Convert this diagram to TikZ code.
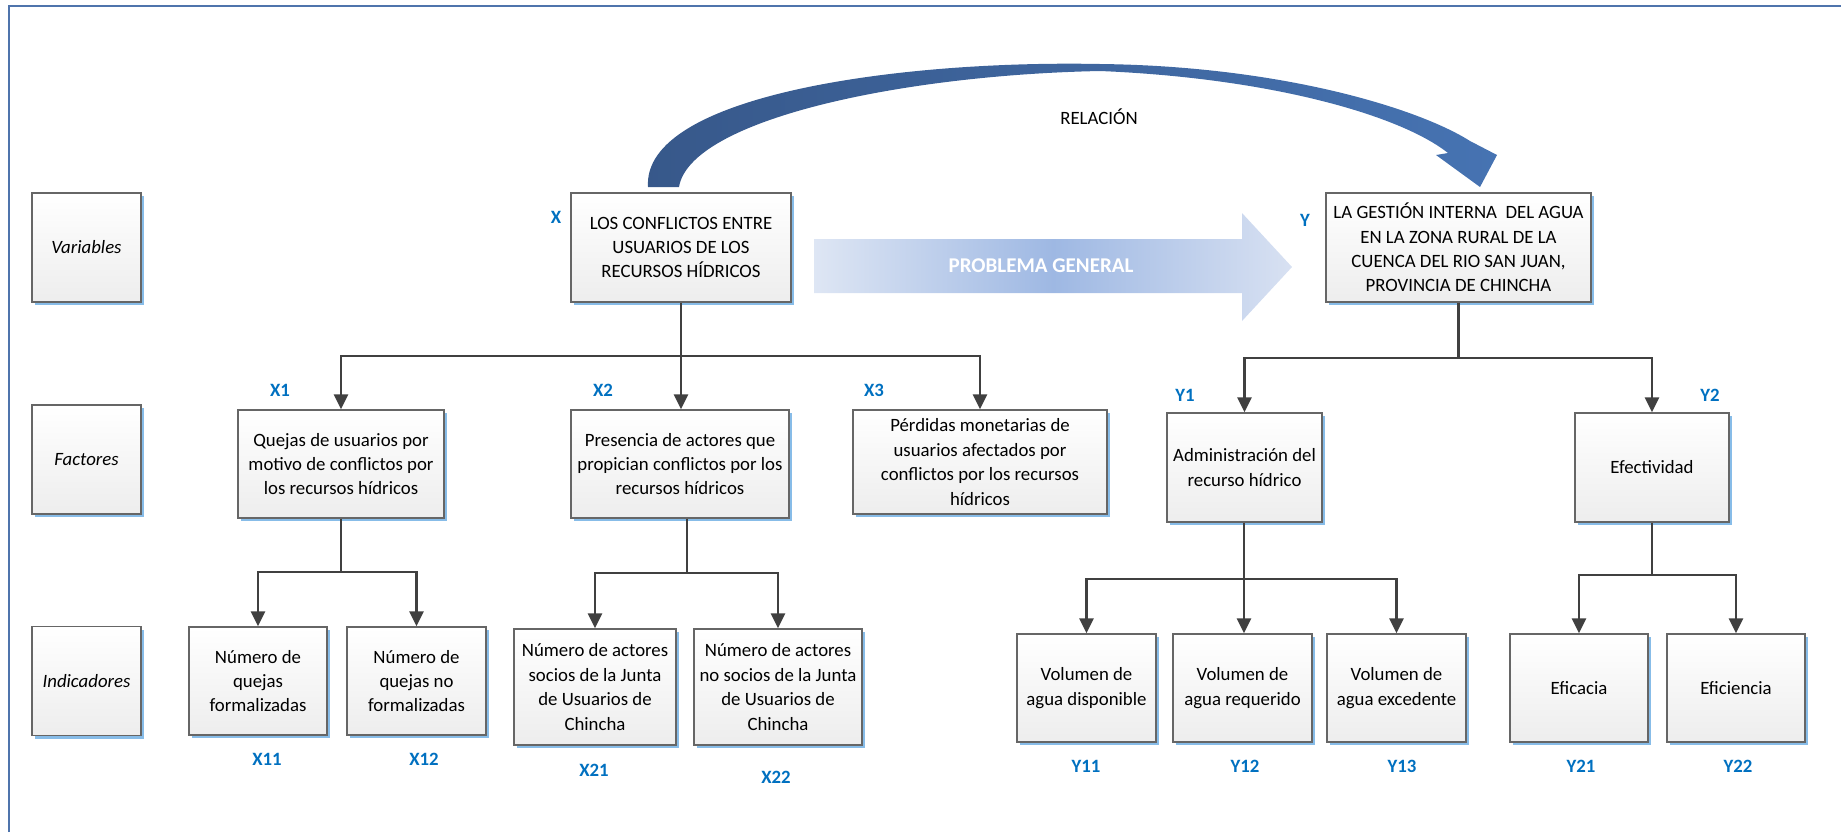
\documentclass[tikz,border=0pt]{standalone}
\usepackage{fontspec}
\setmainfont{Carlito}
\usetikzlibrary{arrows.meta,shadows}
\definecolor{framecol}{RGB}{79,116,172}
\definecolor{shadowblue}{RGB}{135,188,232}
\definecolor{lblblue}{RGB}{0,112,192}
\definecolor{bandl}{RGB}{55,88,138}
\definecolor{bandr}{RGB}{70,115,178}
\definecolor{pgl}{RGB}{222,230,244}
\definecolor{pgm}{RGB}{158,184,227}
\definecolor{pgr}{RGB}{216,225,242}
\tikzset{
  box/.style={rectangle, draw=black!60, line width=0.7pt, top color=white, bottom color=black!7,
    inner sep=0pt, align=center, font=\fontsize{9.4}{12.2}\selectfont,
    drop shadow={shadow xshift=1.6pt, shadow yshift=-1.6pt, fill=shadowblue, opacity=1}},
  rowbox/.style={box, minimum width=54.5pt, minimum height=54.5pt, font=\fontsize{9.4}{12.2}\selectfont\itshape},
  lbl/.style={text=lblblue, font=\fontsize{9.4}{11}\selectfont\bfseries, inner sep=0pt},
  line/.style={draw=black!75, line width=1.3pt},
  arr/.style={line, -{Triangle[length=7.5pt,width=7pt]}},
}
\begin{document}
\begin{tikzpicture}[x=0.5pt,y=-0.5pt]
\useasboundingbox (0,0) rectangle (1841,832);
\draw[framecol, line width=1pt] (9,832) -- (9,6) -- (1841,6);

% row titles
\node[rowbox] (var) at (86.5,247.5) {Variables};
\node[rowbox] (fac) at (86.5,459.5) {Factores};
\node[rowbox] (ind) at (86.5,681) {Indicadores};

% relation arrow
\shade[left color=bandl, right color=bandr] (648,187) .. controls (642,95) and (900,60) .. (1100,64)
  .. controls (1280,66) and (1418,108) .. (1470,141) -- (1497,155) -- (1480,187) -- (1436,155) -- (1448,153)
  .. controls (1400,115) and (1270,78) .. (1100,71) .. controls (900,75) and (690,120) .. (679,187) -- cycle;
\node[font=\fontsize{9.4}{11}\selectfont] (rel) at (1099,117) {RELACIÓN};

\shade[left color=pgl, right color=pgr, middle color=pgm] (814,239) -- (1242,239) -- (1242,213) -- (1292,267)
  -- (1242,321) -- (1242,293) -- (814,293) -- cycle;
\node[text=white, font=\fontsize{10.5}{12}\selectfont\bfseries] (pg) at (1041,266) {PROBLEMA GENERAL};

% variables
\node[box, minimum width=110pt, minimum height=54.5pt] (X) at (681,247.5) {LOS CONFLICTOS ENTRE\\USUARIOS DE LOS\\RECURSOS HÍDRICOS};
\node[box, minimum width=132.5pt, minimum height=54.5pt] (Y) at (1458.5,247.5) {LA GESTIÓN INTERNA \ DEL AGUA\\EN LA ZONA RURAL DE LA\\CUENCA DEL RIO SAN JUAN,\\PROVINCIA DE CHINCHA};

% factores
\node[box, minimum width=103pt, minimum height=54pt] (X1) at (341,464) {Quejas de usuarios por\\motivo de conflictos por\\los recursos hídricos};
\node[box, minimum width=109pt, minimum height=54pt] (X2) at (680,464) {Presencia de actores que\\propician conflictos por los\\recursos hídricos};
\node[box, minimum width=127pt, minimum height=52pt] (X3) at (980,462) {Pérdidas monetarias de\\usuarios afectados por\\conflictos por los recursos\\hídricos};
\node[box, minimum width=77.5pt, minimum height=54.5pt] (Y1) at (1244.5,467.5) {Administración del\\recurso hídrico};
\node[box, minimum width=77pt, minimum height=54.5pt] (Y2) at (1652,467.5) {Efectividad};

% indicadores
\node[box, minimum width=69pt, minimum height=54pt] (X11) at (258,681) {Número de\\quejas\\formalizadas};
\node[box, minimum width=69.5pt, minimum height=54pt] (X12) at (416.5,681) {Número de\\quejas no\\formalizadas};
\node[box, minimum width=81pt, minimum height=58pt] (X21) at (595,687) {Número de actores\\socios de la Junta\\de Usuarios de\\Chincha};
\node[box, minimum width=84pt, minimum height=58pt] (X22) at (778,687) {Número de actores\\no socios de la Junta\\de Usuarios de\\Chincha};
\node[box, minimum width=69.5pt, minimum height=54pt] (Y11) at (1086.5,688) {Volumen de\\agua disponible};
\node[box, minimum width=69.5pt, minimum height=54pt] (Y12) at (1242.5,688) {Volumen de\\agua requerido};
\node[box, minimum width=69.5pt, minimum height=54pt] (Y13) at (1396.5,688) {Volumen de\\agua excedente};
\node[box, minimum width=69pt, minimum height=54pt] (Y21) at (1579,688) {Eficacia};
\node[box, minimum width=69pt, minimum height=54pt] (Y22) at (1736,688) {Eficiencia};

% labels
\node[lbl] (lX) at (556,217) {X};
\node[lbl] (lY) at (1305,220) {Y};
\node[lbl] (lX1) at (280,390) {X1};
\node[lbl] (lX2) at (603,390) {X2};
\node[lbl] (lX3) at (874,390) {X3};
\node[lbl] (lY1) at (1185,395) {Y1};
\node[lbl] (lY2) at (1710,395) {Y2};
\node[lbl] (lX11) at (267,759) {X11};
\node[lbl] (lX12) at (424,759) {X12};
\node[lbl] (lX21) at (594,770) {X21};
\node[lbl] (lX22) at (776,777) {X22};
\node[lbl] (lY11) at (1086,766) {Y11};
\node[lbl] (lY12) at (1245,766) {Y12};
\node[lbl] (lY13) at (1402,766) {Y13};
\node[lbl] (lY21) at (1581,766) {Y21};
\node[lbl] (lY22) at (1738,766) {Y22};

% connectors
\coordinate (xb) at (681,356);
\draw[line] (X.south) -- (xb);
\draw[arr] (xb) -| (X1.north);
\draw[arr] (xb) -- (xb |- X2.north);
\draw[arr] (xb) -| (X3.north);

\coordinate (yb) at (1458.5,358);
\draw[line] (Y.south) -- (yb);
\draw[arr] (yb) -| (Y1.north);
\draw[arr] (yb) -| (Y2.north);

\coordinate (x1b) at (341,572);
\draw[line] (X1.south) -- (x1b);
\draw[arr] (x1b) -| (X11.north);
\draw[arr] (x1b) -| (X12.north);

\coordinate (x2b) at (687,573);
\draw[line] (x2b |- X2.south) -- (x2b);
\draw[arr] (x2b) -| (X21.north);
\draw[arr] (x2b) -| (X22.north);

\coordinate (y1b) at (1244,579);
\draw[line] (y1b |- Y1.south) -- (y1b);
\draw[arr] (y1b) -| (Y11.north);
\draw[arr] (y1b) -- (y1b |- Y12.north);
\draw[arr] (y1b) -| (Y13.north);

\coordinate (y2b) at (1652,575);
\draw[line] (Y2.south) -- (y2b);
\draw[arr] (y2b) -| (Y21.north);
\draw[arr] (y2b) -| (Y22.north);
\end{tikzpicture}
\end{document}
